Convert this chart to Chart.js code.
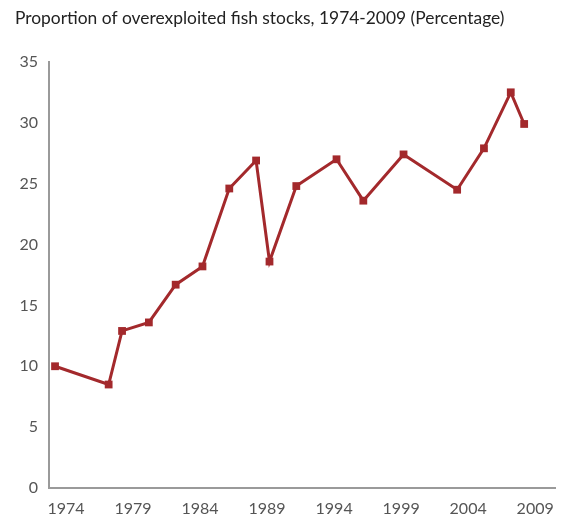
<!DOCTYPE html>
<html>
<head>
<meta charset="utf-8">
<script src="https://cdn.jsdelivr.net/npm/chart.js@4"></script>
<style>
  html, body { margin: 0; padding: 0; background: #fff; }
  #wrap { width: 568px; height: 518px; }
</style>
</head>
<body>
<div id="wrap"><canvas id="fishChart" width="568" height="518"></canvas></div>
<script>
// survey years and share of overexploited stocks (%)
const years = [1974, 1978, 1979, 1981, 1983, 1985, 1987, 1989, 1990, 1992, 1995, 1997, 2000, 2004, 2006, 2008, 2009];
const overexploited = [10.0, 8.5, 12.9, 13.6, 16.7, 18.2, 24.6, 26.9, 18.6, 24.8, 27.0, 23.6, 27.4, 24.5, 27.9, 32.5, 29.9];
const xTickYears = [1974, 1979, 1984, 1989, 1994, 1999, 2004, 2009];
const yTicks = [0, 5, 10, 15, 20, 25, 30, 35];

const lineColor = '#a3292c';
const tickColor = '#555555';
const axisColor = '#9a9a9a';
const fontFamily = 'Lato, "Open Sans", sans-serif';

window.onload = function () {
    const ctx = document.getElementById('fishChart').getContext('2d');
    new Chart(ctx, {
        type: 'line',
        data: {
            datasets: [{
                label: 'Overexploited fish stocks (%)',
                data: years.map((y, i) => ({ x: y, y: overexploited[i] })),
                borderColor: lineColor,
                backgroundColor: lineColor,
                borderWidth: 3,
                pointStyle: 'rect',
                pointRadius: 5.5,
                pointBorderWidth: 0,
                tension: 0
            }]
        },
        options: {
            responsive: false,
            animation: false,
            layout: { padding: { left: 15, right: 13, top: 0, bottom: 0 } },
            plugins: {
                legend: { display: false },
                tooltip: { enabled: false },
                title: {
                    display: true,
                    text: 'Proportion of overexploited fish stocks, 1974-2009 (Percentage)',
                    align: 'start',
                    color: '#222222',
                    font: { family: fontFamily, size: 17.4, weight: 'normal' },
                    padding: { top: 8, bottom: 33 }
                }
            },
            scales: {
                x: {
                    type: 'linear',
                    min: 1973.55,
                    max: 2011.3,
                    afterBuildTicks: function (scale) {
                        scale.ticks = xTickYears.map(v => ({ value: v }));
                    },
                    afterFit: function (scale) { scale.height = 30; },
                    grid: { display: false, drawTicks: false },
                    border: { display: true, color: axisColor, width: 2 },
                    ticks: {
                        color: tickColor,
                        font: { family: fontFamily, size: 16 },
                        padding: 11,
                        labelOffset: 11,
                        maxRotation: 0,
                        autoSkip: false,
                        callback: v => String(v)
                    }
                },
                y: {
                    min: 0,
                    max: 35,
                    afterBuildTicks: function (scale) {
                        scale.ticks = yTicks.map(v => ({ value: v }));
                    },
                    afterFit: function (scale) { scale.width = 34; },
                    grid: { display: false, drawTicks: false },
                    border: { display: true, color: axisColor, width: 2 },
                    ticks: {
                        color: tickColor,
                        font: { family: fontFamily, size: 16 },
                        padding: 11
                    }
                }
            }
        }
    });
};
</script>
</body>
</html>
